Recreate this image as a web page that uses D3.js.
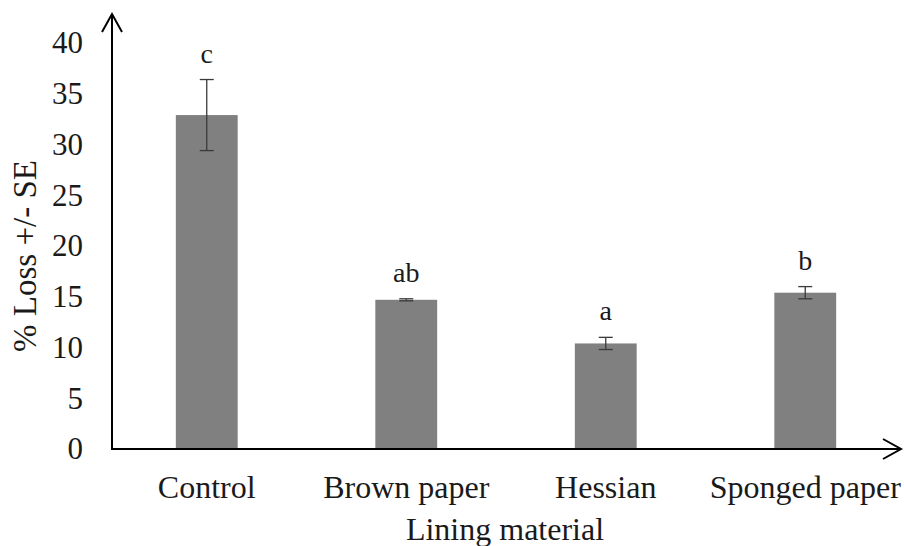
<!DOCTYPE html>
<html>
<head>
<meta charset="utf-8">
<script src="https://cdn.jsdelivr.net/npm/d3@7"></script>
<style>
  html, body { margin: 0; padding: 0; background: #fff; }
  svg { display: block; }
  text { font-family: "Liberation Serif", "Times New Roman", serif; fill: #1a1a1a; }
</style>
</head>
<body>
<svg id="chart" width="904" height="546"></svg>
<script>
const categories = ["Control", "Brown paper", "Hessian", "Sponged paper"];
const meanLoss = [32.9, 14.7, 10.4, 15.4];
const seLoss = [3.5, 0.1, 0.6, 0.6];
const sigLetters = ["c", "ab", "a", "b"];
const yTicks = [0, 5, 10, 15, 20, 25, 30, 35, 40];
const yLabel = "% Loss +/- SE";
const xLabel = "Lining material";

const svg = d3.select("#chart");
const axisX = 112, baseY = 449;

const x = d3.scaleBand().domain(categories).range([107, 905]).paddingInner(0.69).paddingOuter(0.345);
const y = d3.scaleLinear().domain([0, 40]).range([baseY, 43]);

const data = categories.map((c, i) => ({ c, m: meanLoss[i], se: seLoss[i], l: sigLetters[i] }));

// bars
svg.append("g").selectAll("rect").data(data).join("rect")
  .attr("x", d => x(d.c)).attr("width", x.bandwidth())
  .attr("y", d => y(d.m)).attr("height", d => y(0) - y(d.m))
  .attr("fill", "#808080");

// error bars
const eb = svg.append("g").attr("stroke", "#3a3a3a").attr("stroke-width", 1.3);
data.forEach(d => {
  const cx = x(d.c) + x.bandwidth() / 2;
  eb.append("line").attr("x1", cx).attr("x2", cx).attr("y1", y(d.m + d.se)).attr("y2", y(d.m - d.se));
  eb.append("line").attr("x1", cx - 7).attr("x2", cx + 7).attr("y1", y(d.m + d.se)).attr("y2", y(d.m + d.se));
  eb.append("line").attr("x1", cx - 7).attr("x2", cx + 7).attr("y1", y(d.m - d.se)).attr("y2", y(d.m - d.se));
});

// significance letters
svg.append("g").selectAll("text").data(data).join("text")
  .attr("x", d => x(d.c) + x.bandwidth() / 2)
  .attr("y", d => y(d.m + d.se) - 17)
  .attr("text-anchor", "middle").attr("font-size", 28)
  .text(d => d.l);

// y axis tick labels (no tick marks)
const yAxis = d3.axisLeft(y).tickValues(yTicks).tickSize(0).tickPadding(29);
const gy = svg.append("g").attr("transform", `translate(${axisX},0)`).call(yAxis);
gy.select(".domain").remove();
gy.selectAll("text").attr("font-size", 31).attr("font-family", "Liberation Serif, serif").attr("fill", "#1a1a1a");

// x axis category labels
const xAxis = d3.axisBottom(x).tickSize(0).tickPadding(0);
const gx = svg.append("g").attr("transform", `translate(0,${baseY})`).call(xAxis);
gx.select(".domain").remove();
gx.selectAll("text").attr("dy", null).attr("y", 49).attr("font-size", 32)
  .attr("font-family", "Liberation Serif, serif").attr("fill", "#1a1a1a");

// axis lines with open arrows
const ax = svg.append("g").attr("stroke", "#000").attr("stroke-width", 2).attr("fill", "none");
ax.append("line").attr("x1", axisX).attr("x2", axisX).attr("y1", 14).attr("y2", baseY + 1);
ax.append("path").attr("d", `M${axisX - 10},32 L${axisX},14 L${axisX + 10},32`);
ax.append("line").attr("x1", axisX - 1).attr("x2", 901).attr("y1", baseY).attr("y2", baseY);
ax.append("path").attr("d", `M883,${baseY - 10} L901,${baseY} L883,${baseY + 10}`);

// axis titles
svg.append("text").attr("x", 505).attr("y", 540).attr("text-anchor", "middle")
  .attr("font-size", 32).text(xLabel);
svg.append("text").attr("transform", "translate(36,256) rotate(-90)")
  .attr("text-anchor", "middle").attr("font-size", 33).text(yLabel);
</script>
</body>
</html>
